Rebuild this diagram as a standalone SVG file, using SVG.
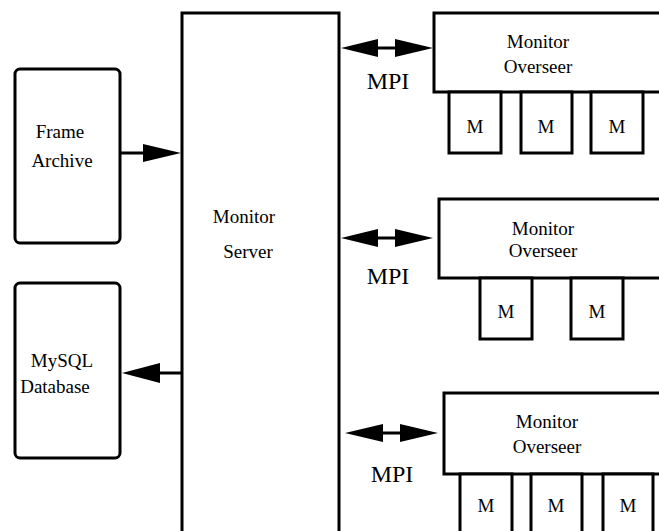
<svg xmlns="http://www.w3.org/2000/svg" width="659" height="531" viewBox="0 0 659 531">
<style>
.box{fill:#fff;stroke:#000;stroke-width:3}
.t{font-family:"Liberation Serif","Times New Roman",serif;font-size:19px;fill:#000;text-anchor:middle}
.mpi{font-family:"Liberation Serif","Times New Roman",serif;font-size:24px;fill:#000;text-anchor:middle}
.ln{stroke:#000;stroke-width:3;fill:none}
.ah{fill:#000;stroke:none}
</style>
<rect width="659" height="531" fill="#fff"/>
<g id="server">
<rect class="box" x="182" y="13" width="157" height="540"/>
<text class="t" x="244" y="223">Monitor</text>
<text class="t" x="248" y="258">Server</text>
</g>
<g id="frame-archive">
<rect class="box" x="15" y="69" width="105" height="174" rx="5"/>
<text class="t" x="60" y="138">Frame</text>
<text class="t" x="62" y="167">Archive</text>
</g>
<g id="mysql">
<rect class="box" x="15" y="283" width="105" height="175" rx="5"/>
<text class="t" x="62" y="367">MySQL</text>
<text class="t" x="55" y="393">Database</text>
</g>
<g id="overseer1">
<rect class="box" x="434" y="13" width="230" height="79"/>
<text class="t" x="538" y="48">Monitor</text>
<text class="t" x="538" y="73">Overseer</text>
</g>
<g id="m1a"><rect class="box" x="449" y="92" width="52" height="61"/><text class="t" x="475" y="133">M</text></g>
<g id="m1b"><rect class="box" x="521" y="92" width="51" height="61"/><text class="t" x="546" y="133">M</text></g>
<g id="m1c"><rect class="box" x="591" y="92" width="52" height="61"/><text class="t" x="617" y="133">M</text></g>
<g id="overseer2">
<rect class="box" x="439" y="199" width="225" height="79"/>
<text class="t" x="543" y="235">Monitor</text>
<text class="t" x="543" y="257">Overseer</text>
</g>
<g id="m2a"><rect class="box" x="480" y="278" width="52" height="61"/><text class="t" x="506" y="318">M</text></g>
<g id="m2b"><rect class="box" x="571" y="278" width="52" height="61"/><text class="t" x="597" y="318">M</text></g>
<g id="overseer3">
<rect class="box" x="444" y="393" width="220" height="81"/>
<text class="t" x="547" y="428">Monitor</text>
<text class="t" x="547" y="453">Overseer</text>
</g>
<g id="m3a"><rect class="box" x="460" y="474" width="52" height="70"/><text class="t" x="486" y="512">M</text></g>
<g id="m3b"><rect class="box" x="531" y="474" width="51" height="70"/><text class="t" x="556" y="512">M</text></g>
<g id="m3c"><rect class="box" x="603" y="474" width="50" height="70"/><text class="t" x="628" y="512">M</text></g>
<g id="connectors">
<line class="ln" x1="121" y1="153" x2="146" y2="153"/>
<polygon class="ah" points="143,144 181,153 143,162"/>
<line class="ln" x1="158" y1="373" x2="182" y2="373"/>
<polygon class="ah" points="160,363 122,373 160,383"/>
<line class="ln" x1="375" y1="48" x2="398" y2="48"/>
<polygon class="ah" points="378,39 341,48 378,57"/>
<polygon class="ah" points="395,39 433,48 395,57"/>
<line class="ln" x1="375" y1="238" x2="398" y2="238"/>
<polygon class="ah" points="378,229 341,238 378,247"/>
<polygon class="ah" points="395,229 433,238 395,247"/>
<line class="ln" x1="380" y1="433" x2="403" y2="433"/>
<polygon class="ah" points="383,424 345,433 383,442"/>
<polygon class="ah" points="400,424 438,433 400,442"/>
</g>
<text class="mpi" x="388" y="89">MPI</text>
<text class="mpi" x="388" y="284">MPI</text>
<text class="mpi" x="392" y="482">MPI</text>
</svg>
